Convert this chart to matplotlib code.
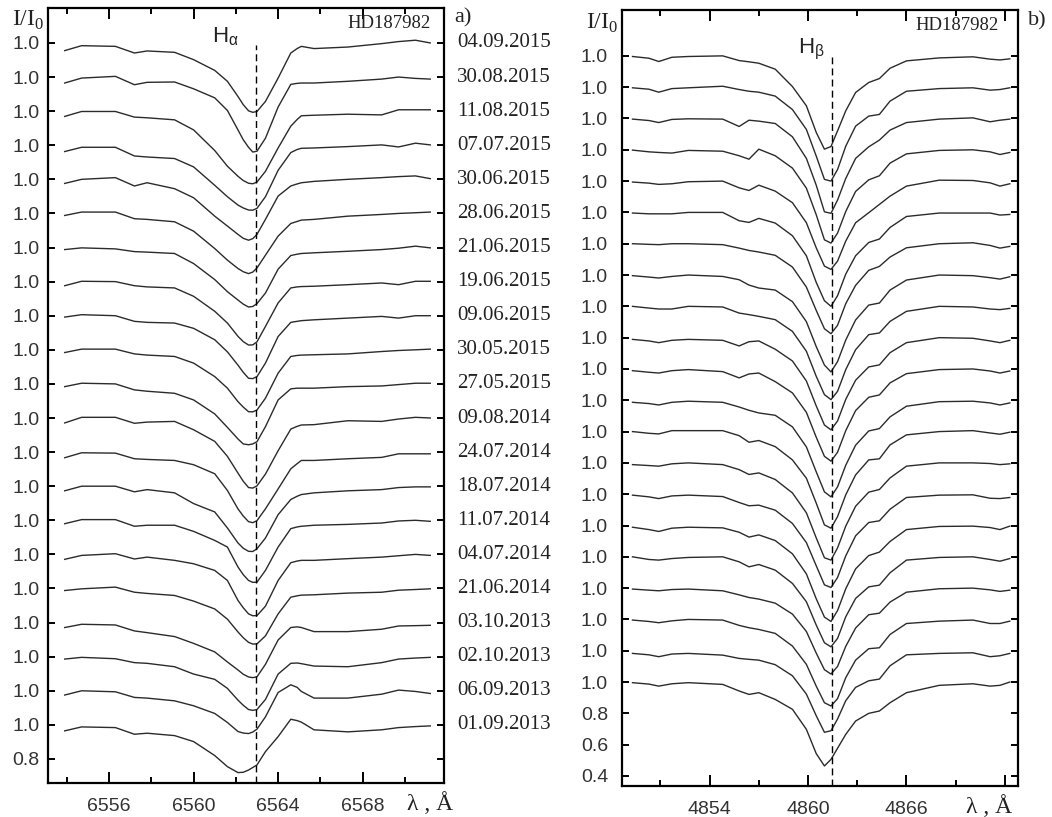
import numpy as np
import matplotlib.pyplot as plt
import matplotlib.transforms as mtransforms

plt.rcParams['font.family'] = 'Liberation Sans'

W, H = 1052, 817

# ---- H-alpha panel (a) ----
ha_wave = [6553.9, 6554.7, 6556.3, 6557.2, 6557.8, 6559.1, 6560.0, 6561.0, 6561.6, 6562.1, 6562.35,
           6562.6, 6562.8, 6563.0, 6563.4, 6564.0, 6564.6, 6564.9, 6565.1, 6565.7, 6567.3, 6568.9,
           6569.7, 6570.5, 6571.2]

dates = ["04.09.2015", "30.08.2015", "11.08.2015", "07.07.2015", "30.06.2015", "28.06.2015",
         "21.06.2015", "19.06.2015", "09.06.2015", "30.05.2015", "27.05.2015", "09.08.2014",
         "24.07.2014", "18.07.2014", "11.07.2014", "04.07.2014", "21.06.2014", "03.10.2013",
         "02.10.2013", "06.09.2013", "01.09.2013"]

ha_s01 = [0.955, 0.984, 0.980, 0.941, 0.953, 0.945, 0.902, 0.839, 0.775, 0.686, 0.638, 0.602, 0.593, 0.598, 0.657, 0.794, 0.941, 0.967, 0.980, 0.967, 0.976, 0.996, 1.008, 1.016, 1.000]
ha_s02 = [0.965, 0.994, 1.004, 0.955, 0.969, 0.971, 0.931, 0.878, 0.804, 0.690, 0.632, 0.588, 0.560, 0.565, 0.641, 0.824, 0.957, 0.963, 0.965, 0.965, 0.975, 0.988, 1.000, 0.992, 0.988]
ha_s03 = [0.969, 0.998, 0.998, 0.965, 0.961, 0.949, 0.890, 0.769, 0.677, 0.618, 0.593, 0.577, 0.574, 0.584, 0.647, 0.784, 0.912, 0.951, 0.973, 0.976, 0.982, 0.978, 1.008, 1.008, 1.008]
ha_s04 = [0.963, 0.988, 0.988, 0.937, 0.931, 0.922, 0.873, 0.765, 0.698, 0.649, 0.632, 0.620, 0.619, 0.630, 0.698, 0.853, 0.957, 0.975, 0.982, 0.984, 0.992, 1.002, 0.990, 1.012, 1.002]
ha_s05 = [0.976, 1.000, 1.010, 0.961, 0.980, 0.945, 0.892, 0.784, 0.726, 0.677, 0.654, 0.643, 0.652, 0.677, 0.765, 0.902, 0.961, 0.973, 0.980, 0.988, 1.000, 1.010, 1.016, 1.020, 1.004]
ha_s06 = [0.988, 1.008, 1.008, 0.969, 0.965, 0.951, 0.896, 0.794, 0.726, 0.677, 0.658, 0.647, 0.656, 0.680, 0.755, 0.867, 0.941, 0.953, 0.961, 0.965, 0.984, 0.994, 1.000, 1.004, 1.008]
ha_s07 = [0.988, 0.998, 0.992, 0.976, 0.973, 0.965, 0.906, 0.812, 0.741, 0.692, 0.668, 0.651, 0.654, 0.671, 0.733, 0.873, 0.953, 0.961, 0.965, 0.969, 0.978, 0.988, 0.996, 1.008, 0.998]
ha_s08 = [0.976, 1.002, 1.000, 0.976, 0.969, 0.963, 0.914, 0.826, 0.757, 0.679, 0.648, 0.628, 0.629, 0.647, 0.737, 0.875, 0.963, 0.969, 0.971, 0.973, 0.982, 0.992, 0.982, 1.002, 1.002]
ha_s09 = [0.992, 1.006, 1.000, 0.967, 0.961, 0.957, 0.926, 0.859, 0.788, 0.710, 0.668, 0.633, 0.631, 0.643, 0.722, 0.878, 0.961, 0.967, 0.971, 0.976, 0.986, 0.996, 0.986, 1.000, 1.000]
ha_s10 = [0.984, 1.004, 1.004, 0.976, 0.969, 0.961, 0.922, 0.843, 0.775, 0.696, 0.664, 0.637, 0.636, 0.647, 0.716, 0.863, 0.961, 0.967, 0.969, 0.971, 0.976, 0.990, 0.996, 1.000, 1.004]
ha_s11 = [0.984, 1.004, 1.000, 0.965, 0.957, 0.945, 0.906, 0.824, 0.745, 0.677, 0.648, 0.643, 0.648, 0.661, 0.749, 0.906, 0.971, 0.975, 0.975, 0.975, 0.984, 0.988, 0.996, 1.004, 1.004]
ha_s12 = [0.971, 1.004, 1.004, 0.969, 0.976, 0.980, 0.931, 0.863, 0.775, 0.677, 0.629, 0.592, 0.589, 0.602, 0.671, 0.808, 0.935, 0.951, 0.959, 0.961, 0.984, 0.980, 0.994, 1.004, 1.000]
ha_s13 = [0.967, 0.996, 0.994, 0.961, 0.957, 0.951, 0.926, 0.873, 0.775, 0.667, 0.625, 0.592, 0.586, 0.598, 0.667, 0.784, 0.902, 0.932, 0.951, 0.951, 0.961, 0.969, 0.990, 0.990, 0.990]
ha_s14 = [0.973, 1.000, 1.000, 0.967, 0.980, 0.961, 0.898, 0.849, 0.755, 0.667, 0.636, 0.618, 0.617, 0.633, 0.696, 0.833, 0.922, 0.941, 0.951, 0.961, 0.973, 0.980, 0.992, 0.996, 0.996]
ha_s15 = [0.980, 1.004, 1.004, 0.965, 0.971, 0.971, 0.935, 0.882, 0.843, 0.726, 0.681, 0.647, 0.636, 0.637, 0.706, 0.843, 0.951, 0.961, 0.965, 0.971, 0.976, 0.984, 0.996, 1.000, 0.994]
ha_s16 = [0.971, 0.994, 1.004, 0.973, 0.984, 0.965, 0.945, 0.906, 0.847, 0.730, 0.687, 0.651, 0.640, 0.641, 0.696, 0.847, 0.951, 0.961, 0.965, 0.965, 0.975, 0.984, 0.992, 1.000, 0.994]
ha_s17 = [0.988, 0.998, 1.008, 0.978, 0.971, 0.959, 0.926, 0.880, 0.820, 0.745, 0.711, 0.684, 0.674, 0.675, 0.722, 0.851, 0.949, 0.957, 0.961, 0.963, 0.973, 0.978, 0.990, 0.994, 0.998]
ha_s18 = [0.971, 0.990, 0.986, 0.951, 0.941, 0.918, 0.878, 0.828, 0.769, 0.722, 0.697, 0.681, 0.677, 0.682, 0.755, 0.898, 0.971, 0.975, 0.971, 0.947, 0.947, 0.961, 0.980, 0.982, 0.984]
ha_s19 = [0.986, 0.996, 0.988, 0.965, 0.961, 0.941, 0.898, 0.867, 0.814, 0.745, 0.715, 0.690, 0.685, 0.690, 0.749, 0.898, 0.961, 0.963, 0.959, 0.945, 0.941, 0.965, 0.986, 0.992, 0.996]
ha_s20 = [0.975, 1.000, 0.994, 0.961, 0.957, 0.941, 0.912, 0.867, 0.814, 0.761, 0.752, 0.749, 0.758, 0.775, 0.847, 0.990, 1.035, 1.020, 0.996, 0.957, 0.957, 0.980, 1.004, 0.996, 0.984]
ha_s21 = [0.965, 0.988, 0.984, 0.945, 0.951, 0.937, 0.902, 0.820, 0.755, 0.720, 0.722, 0.735, 0.750, 0.765, 0.843, 0.931, 1.033, 1.025, 1.016, 0.971, 0.959, 0.971, 0.984, 0.990, 0.994]

ha_flux = [ha_s01, ha_s02, ha_s03, ha_s04, ha_s05, ha_s06, ha_s07, ha_s08, ha_s09, ha_s10, ha_s11,
           ha_s12, ha_s13, ha_s14, ha_s15, ha_s16, ha_s17, ha_s18, ha_s19, ha_s20, ha_s21]

# ---- H-beta panel (b) ----
hb_wave = [4849.3, 4850.3, 4850.9, 4851.7, 4852.7, 4854.8, 4855.8, 4856.4, 4857.0, 4858.0, 4859.05,
           4859.9, 4860.5, 4861.0, 4861.4, 4861.8, 4862.3, 4862.9, 4863.7, 4864.35, 4865.0, 4866.0,
           4868.0, 4870.05, 4871.1, 4871.7, 4872.3]

hb_s01 = [0.996, 0.985, 0.964, 0.991, 0.996, 1.000, 0.970, 0.962, 0.953, 0.915, 0.804, 0.681, 0.511, 0.404, 0.421, 0.521, 0.649, 0.766, 0.830, 0.855, 0.921, 0.968, 0.987, 0.994, 0.979, 0.974, 0.981]
hb_s02 = [0.996, 0.987, 0.968, 0.991, 0.996, 1.006, 0.985, 0.974, 0.968, 0.943, 0.857, 0.730, 0.560, 0.411, 0.400, 0.474, 0.623, 0.751, 0.815, 0.826, 0.911, 0.974, 0.991, 0.996, 0.981, 0.985, 0.996]
hb_s03 = [0.996, 0.987, 0.974, 0.994, 0.998, 0.996, 0.949, 0.989, 0.983, 0.968, 0.883, 0.745, 0.574, 0.404, 0.394, 0.479, 0.617, 0.745, 0.819, 0.862, 0.926, 0.974, 0.996, 1.004, 0.979, 0.989, 0.996]
hb_s04 = [0.998, 0.987, 0.983, 0.979, 0.996, 0.991, 0.962, 0.940, 1.004, 0.962, 0.883, 0.755, 0.585, 0.425, 0.404, 0.468, 0.606, 0.734, 0.808, 0.834, 0.915, 0.974, 0.996, 1.000, 0.987, 0.970, 0.983]
hb_s05 = [0.994, 0.987, 0.979, 0.983, 0.996, 1.000, 0.957, 0.940, 0.974, 0.936, 0.862, 0.734, 0.574, 0.457, 0.436, 0.489, 0.617, 0.734, 0.798, 0.851, 0.904, 0.968, 1.006, 1.004, 0.989, 0.968, 0.983]
hb_s06 = [0.996, 0.991, 0.991, 0.991, 1.000, 1.000, 0.947, 0.936, 0.962, 0.932, 0.851, 0.723, 0.553, 0.436, 0.400, 0.468, 0.606, 0.723, 0.808, 0.830, 0.904, 0.974, 0.996, 0.996, 0.996, 0.983, 0.987]
hb_s07 = [1.000, 0.996, 0.994, 1.000, 1.000, 0.994, 0.972, 0.957, 0.947, 0.926, 0.851, 0.723, 0.574, 0.457, 0.425, 0.479, 0.617, 0.734, 0.830, 0.855, 0.915, 0.974, 1.000, 1.006, 0.989, 0.972, 0.983]
hb_s08 = [0.996, 0.987, 0.981, 0.991, 1.000, 0.991, 0.970, 0.936, 0.917, 0.904, 0.830, 0.702, 0.543, 0.425, 0.381, 0.447, 0.585, 0.713, 0.808, 0.821, 0.904, 0.968, 1.000, 0.996, 0.983, 0.974, 0.989]
hb_s09 = [1.000, 0.989, 0.983, 0.983, 1.000, 0.996, 0.957, 0.947, 0.936, 0.915, 0.840, 0.713, 0.553, 0.436, 0.404, 0.457, 0.596, 0.723, 0.819, 0.830, 0.904, 0.968, 1.000, 0.996, 0.983, 0.979, 0.987]
hb_s10 = [0.989, 0.979, 0.968, 0.983, 0.989, 0.983, 0.947, 0.974, 0.979, 0.926, 0.851, 0.723, 0.564, 0.442, 0.411, 0.468, 0.606, 0.728, 0.813, 0.826, 0.904, 0.968, 1.000, 0.996, 0.979, 0.968, 0.983]
hb_s11 = [0.989, 0.979, 0.974, 0.989, 0.996, 0.983, 0.943, 0.968, 0.974, 0.919, 0.847, 0.723, 0.564, 0.442, 0.411, 0.468, 0.606, 0.734, 0.819, 0.834, 0.911, 0.970, 0.996, 1.000, 0.987, 0.974, 0.987]
hb_s12 = [0.987, 0.979, 0.970, 0.987, 0.994, 0.987, 0.957, 0.936, 0.919, 0.904, 0.830, 0.702, 0.543, 0.415, 0.383, 0.447, 0.585, 0.713, 0.804, 0.819, 0.894, 0.962, 0.991, 0.994, 0.983, 0.970, 0.983]
hb_s13 = [1.000, 0.989, 0.985, 1.006, 1.006, 1.006, 0.974, 0.932, 0.943, 0.904, 0.819, 0.702, 0.543, 0.404, 0.383, 0.457, 0.596, 0.723, 0.819, 0.826, 0.915, 0.979, 1.000, 1.006, 0.991, 0.983, 0.996]
hb_s14 = [0.989, 0.983, 0.979, 0.994, 1.000, 0.989, 0.957, 0.926, 0.936, 0.894, 0.808, 0.681, 0.521, 0.394, 0.379, 0.457, 0.596, 0.723, 0.813, 0.830, 0.904, 0.979, 1.000, 1.000, 0.996, 0.989, 0.994]
hb_s15 = [0.994, 0.983, 0.972, 0.989, 0.994, 0.985, 0.947, 0.926, 0.930, 0.898, 0.813, 0.691, 0.543, 0.421, 0.404, 0.468, 0.606, 0.734, 0.819, 0.830, 0.904, 0.979, 0.994, 0.996, 0.974, 0.972, 0.979]
hb_s16 = [0.989, 0.974, 0.962, 0.983, 0.989, 0.985, 0.957, 0.926, 0.940, 0.904, 0.819, 0.691, 0.532, 0.415, 0.387, 0.457, 0.596, 0.723, 0.808, 0.830, 0.898, 0.974, 0.994, 0.996, 0.987, 0.974, 0.996]
hb_s17 = [1.000, 0.983, 0.979, 0.989, 0.996, 1.000, 0.968, 0.936, 0.951, 0.915, 0.830, 0.713, 0.564, 0.451, 0.425, 0.479, 0.617, 0.734, 0.808, 0.819, 0.898, 0.979, 0.996, 1.000, 0.983, 0.972, 0.989]
hb_s18 = [0.994, 0.987, 0.983, 0.991, 0.994, 0.983, 0.957, 0.940, 0.930, 0.904, 0.834, 0.723, 0.585, 0.479, 0.451, 0.500, 0.628, 0.745, 0.830, 0.840, 0.911, 0.974, 0.996, 1.000, 0.989, 0.979, 0.987]
hb_s19 = [0.996, 0.987, 0.979, 0.991, 1.000, 0.996, 0.962, 0.947, 0.936, 0.911, 0.830, 0.713, 0.574, 0.468, 0.447, 0.494, 0.628, 0.740, 0.813, 0.819, 0.904, 0.974, 0.989, 0.996, 0.974, 0.974, 0.989]
hb_s20 = [0.983, 0.974, 0.962, 0.979, 0.983, 0.972, 0.951, 0.945, 0.940, 0.911, 0.840, 0.723, 0.585, 0.479, 0.489, 0.564, 0.681, 0.766, 0.808, 0.819, 0.904, 0.974, 0.983, 0.987, 0.962, 0.968, 0.983]
hb_s21 = [0.996, 0.987, 0.974, 0.989, 0.996, 0.985, 0.943, 0.921, 0.932, 0.889, 0.826, 0.698, 0.543, 0.464, 0.506, 0.577, 0.666, 0.751, 0.800, 0.815, 0.868, 0.932, 0.979, 0.989, 0.974, 0.979, 1.000]

hb_flux = [hb_s01, hb_s02, hb_s03, hb_s04, hb_s05, hb_s06, hb_s07, hb_s08, hb_s09, hb_s10, hb_s11,
           hb_s12, hb_s13, hb_s14, hb_s15, hb_s16, hb_s17, hb_s18, hb_s19, hb_s20, hb_s21]

ha_center = 6562.95
hb_center = 4861.45
step = 0.2
nspec = len(ha_flux)

line_col = '#2b2b2b'
text_col = '#222222'
serif = 'Liberation Serif'

fig = plt.figure(figsize=(W / 100, H / 100), dpi=100)
ax1 = fig.add_axes([48 / W, 1 - 783 / H, 396 / W, 775 / H])
ax2 = fig.add_axes([622 / W, 1 - 786 / H, 396 / W, 776 / H])


def style_axes(ax, xmajor, xminor, yticks, ylabels, ypad):
    for sp in ax.spines.values():
        sp.set_linewidth(1.6)
    ax.set_xticks(xmajor)
    ax.set_xticks(xminor, minor=True)
    ax.set_yticks(yticks)
    ax.set_yticklabels(ylabels)
    ax.tick_params(axis='both', which='both', direction='in', top=True, right=True,
                   width=1.4, labelcolor='#333333', labelsize=14)
    ax.tick_params(axis='x', which='major', length=8, pad=11)
    ax.tick_params(axis='x', which='minor', length=4)
    ax.tick_params(axis='y', which='major', length=5, pad=ypad)


# panel a
for k, flux in enumerate(ha_flux):
    off = step * (nspec - 1 - k)
    ax1.plot(ha_wave, np.array(flux) + off, color=line_col, lw=1.0)
ax1.set_xlim(6553.11, 6571.85)
ax1.set_ylim(0.659, 5.205)
ax1.plot([ha_center, ha_center], [0.659, 4.99], color='black', lw=1.0, ls=(0, (5, 3)))
yt1 = [0.8] + [1.0 + step * i for i in range(nspec)]
style_axes(ax1, [6556, 6560, 6564, 6568], [6554, 6558, 6562, 6566, 6570],
           yt1, ['0.8'] + ['1.0'] * nspec, 6)
ax1.set_xticklabels(['6556', '6560', '6564', '6568'])

trans1 = mtransforms.blended_transform_factory(ax1.transAxes, ax1.transData)
for k, d in enumerate(dates):
    ax1.text(1 + 13 / 396, 1.0 + step * (nspec - 1 - k), d, transform=trans1,
             ha='left', va='center', family=serif, fontsize=15, color=text_col)

# panel b
for k, flux in enumerate(hb_flux):
    off = step * (nspec - 1 - k)
    ax2.plot(hb_wave, np.array(flux) + off, color=line_col, lw=1.0)
ax2.set_xlim(4848.66, 4872.8)
ax2.set_ylim(0.336, 5.293)
ax2.plot([hb_center, hb_center], [0.336, 4.99], color='black', lw=1.0, ls=(0, (5, 3)))
yt2 = [0.4, 0.6, 0.8] + [1.0 + step * i for i in range(nspec)]
style_axes(ax2, [4854, 4860, 4866, 4872], [4851, 4857, 4863, 4869],
           yt2, ['0.4', '0.6', '0.8'] + ['1.0'] * nspec, 10)
ax2.set_xticklabels(['4854', '4860', '4866', ''])


# labels and annotations
def ftext(x, y, s, **kw):
    fig.text(x / W, 1 - y / H, s, color=text_col, va='baseline', **kw)


ftext(12, 26, r'I/I$_\mathregular{0}$', family=serif, fontsize=17)
ftext(586, 29, r'I/I$_\mathregular{0}$', family=serif, fontsize=17)
ftext(212, 42, r'H$_\mathregular{α}$', fontsize=16)
ftext(798, 53, r'H$_\mathregular{β}$', fontsize=16)
ftext(347, 28, 'HD187982', family=serif, fontsize=13.5)
ftext(915, 30, 'HD187982', family=serif, fontsize=13.5)
ftext(454, 22, 'a)', family=serif, fontsize=16)
ftext(1028, 25, 'b)', family=serif, fontsize=16)
ftext(407, 810, 'λ , Å', family=serif, fontsize=17)
ftext(966, 813, 'λ , Å', family=serif, fontsize=17)

fig.savefig('out.png', dpi=100)
